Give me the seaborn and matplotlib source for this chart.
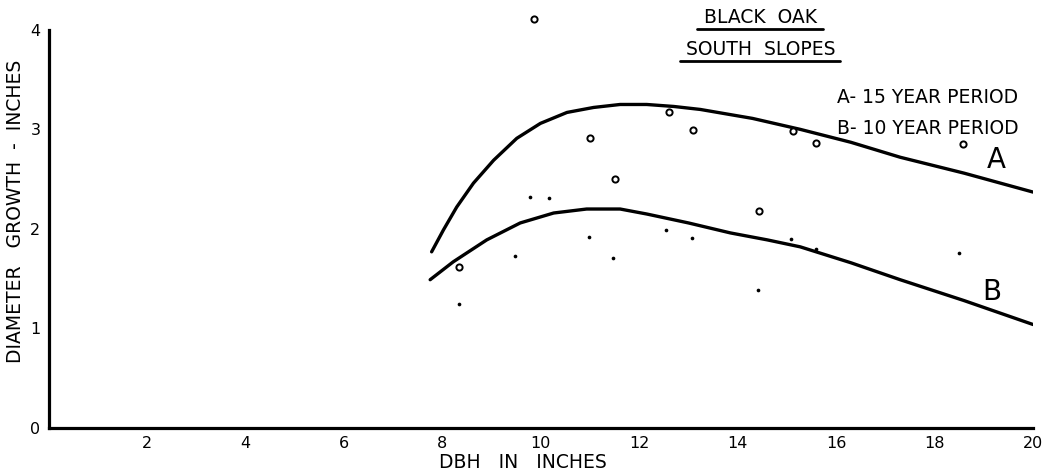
import matplotlib.pyplot as plt
import seaborn as sns
import pandas as pd

# curve A (15 year period)
a_x = [7.78, 8.02, 8.29, 8.63, 9.04, 9.51, 9.99, 10.53, 11.07, 11.61, 12.15, 12.7, 13.24, 14.3, 15.27, 16.3, 17.3, 18.6, 20.0]
a_y = [1.77, 1.99, 2.22, 2.46, 2.69, 2.91, 3.06, 3.17, 3.22, 3.25, 3.25, 3.23, 3.20, 3.11, 3.00, 2.87, 2.72, 2.56, 2.37]
# curve B (10 year period)
b_x = [7.75, 8.22, 8.9, 9.58, 10.26, 10.93, 11.61, 12.15, 13.0, 13.85, 14.6, 15.27, 16.3, 17.3, 18.6, 20.0]
b_y = [1.49, 1.67, 1.89, 2.06, 2.16, 2.20, 2.20, 2.15, 2.06, 1.96, 1.89, 1.82, 1.66, 1.49, 1.28, 1.04]

# observed trees, 15 year growth (open circles)
a_pts_x = [8.34, 9.85, 11.0, 11.5, 12.6, 13.1, 14.44, 15.13, 15.59, 18.57]
a_pts_y = [1.62, 4.11, 2.91, 2.50, 3.17, 2.99, 2.18, 2.98, 2.86, 2.85]
# observed trees, 10 year growth (dots)
b_pts_x = [8.34, 9.47, 9.78, 10.16, 10.97, 11.46, 12.55, 13.07, 14.42, 15.08, 15.58, 18.5]
b_pts_y = [1.25, 1.73, 2.32, 2.31, 1.92, 1.71, 1.99, 1.91, 1.39, 1.90, 1.80, 1.76]

x_ticks = [2, 4, 6, 8, 10, 12, 14, 16, 18, 20]
y_ticks = [0, 1, 2, 3, 4]

sns.set_style("white")
plt.rcParams["font.family"] = ["DejaVu Sans"]
plt.rcParams["text.color"] = "black"
plt.rcParams["axes.labelcolor"] = "black"

fig = plt.figure(figsize=(10.52, 4.73), dpi=100)
ax = fig.add_axes([0.0463, 0.095, 0.9357, 0.842])

curve_a = pd.DataFrame({"dbh": a_x, "growth": a_y})
curve_b = pd.DataFrame({"dbh": b_x, "growth": b_y})
sns.lineplot(data=curve_a, x="dbh", y="growth", sort=False, color="black", lw=2.4, ax=ax)
sns.lineplot(data=curve_b, x="dbh", y="growth", sort=False, color="black", lw=2.4, ax=ax)

sns.scatterplot(x=a_pts_x, y=a_pts_y, marker="o", s=20, facecolor="white",
                edgecolor="black", linewidth=1.4, ax=ax, clip_on=False, zorder=3)
sns.scatterplot(x=b_pts_x, y=b_pts_y, marker="o", s=7, color="black",
                edgecolor="black", linewidth=0, ax=ax, clip_on=False, zorder=3)

ax.set_xlim(0, 20)
ax.set_ylim(0, 4)
ax.set_xticks(x_ticks)
ax.set_yticks(y_ticks)
ax.tick_params(direction="in", length=8, width=1.3, labelsize=11.5, colors="black", pad=6)
for s in ["top", "right"]:
    ax.spines[s].set_visible(False)
for s in ["left", "bottom"]:
    ax.spines[s].set_linewidth(2.3)
    ax.spines[s].set_color("black")

ax.set_xlabel("DBH   IN   INCHES", fontsize=13.5)
ax.xaxis.set_label_coords(0.4815, -0.063)
ax.set_ylabel("DIAMETER   GROWTH  -  INCHES", fontsize=13.5)
ax.yaxis.set_label_coords(-0.024, 0.543)

ax.text(14.46, 4.12, "BLACK  OAK", fontsize=13.5, ha="center", va="center")
ax.plot([13.18, 15.74], [4.01, 4.01], color="black", lw=2.0, clip_on=False)
ax.text(14.46, 3.80, "SOUTH  SLOPES", fontsize=13.5, ha="center", va="center")
ax.plot([12.83, 16.08], [3.69, 3.69], color="black", lw=2.0, clip_on=False)

ax.text(16.02, 3.32, "A- 15 YEAR PERIOD", fontsize=13.5, ha="left", va="center")
ax.text(16.02, 3.01, "B- 10 YEAR PERIOD", fontsize=13.5, ha="left", va="center")
ax.text(19.25, 2.69, "A", fontsize=20, ha="center", va="center")
ax.text(19.17, 1.37, "B", fontsize=20, ha="center", va="center")

fig.savefig("out.png", dpi=100)
